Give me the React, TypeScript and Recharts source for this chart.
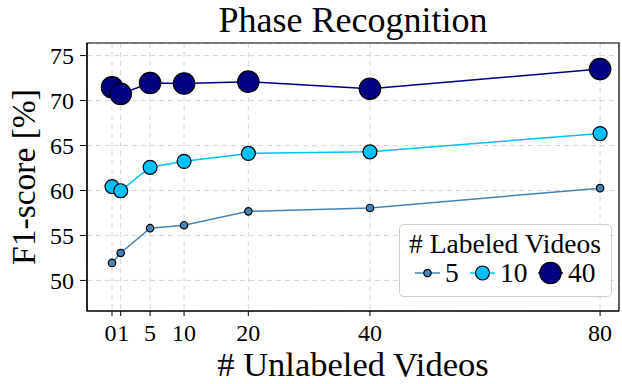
import React from "react";
import {
  LineChart,
  Line,
  XAxis,
  YAxis,
  CartesianGrid,
  Legend,
  ReferenceArea,
  Label,
} from "recharts";

const UNLABELED = [0, 1, 5, 10, 20, 40, 80];
const F1_L5 = [51.95, 53.05, 55.81, 56.14, 57.68, 58.06, 60.26];
const F1_L10 = [60.44, 59.97, 62.58, 63.24, 64.12, 64.3, 66.33];
const F1_L40 = [71.47, 70.74, 71.95, 71.9, 72.1, 71.32, 73.5];
const Y_TICKS = [50, 55, 60, 65, 70, 75];

const SERIES = [
  { key: "l5", label: "5", color: "#4682b4", r: 3.7 },
  { key: "l10", label: "10", color: "#00bfff", r: 7 },
  { key: "l40", label: "40", color: "#000080", r: 10.7 },
];

const FONT = "'Liberation Serif', 'Times New Roman', Times, serif";

// the original x axis is slightly compressed toward 80
const warp = (v: number) => 80 * Math.pow(v / 80, 0.92);
const X_TICKS = UNLABELED.map(warp);
const X_DOMAIN = [-4.1, 83.1];
const Y_DOMAIN = [46.6, 76.4];

const data = UNLABELED.map((u, i) => ({
  u,
  x: warp(u),
  l5: F1_L5[i],
  l10: F1_L10[i],
  l40: F1_L40[i],
}));

const unwarp = (v: number) =>
  UNLABELED.find((u) => Math.abs(warp(u) - v) < 1e-6) ?? 0;

// "0" and "1" sit close together, nudge them apart a little
function XTick(props: any) {
  const { x, y, payload } = props;
  const u = unwarp(payload.value);
  const dx = u === 0 ? -1.5 : u === 1 ? 2.5 : 0;
  return (
    <text
      x={x + dx}
      y={y}
      dy="0.71em"
      textAnchor="middle"
      fontFamily={FONT}
      fontSize={24}
      fill="#000"
    >
      {u}
    </text>
  );
}

function LegendBox() {
  const slots = [16, 71, 139];
  return (
    <svg width={213} height={73} style={{ display: "block" }}>
      <rect
        x={0.5}
        y={0.5}
        width={212}
        height={72}
        rx={4}
        fill="rgba(255,255,255,0.85)"
        stroke="#cccccc"
      />
      <text
        x={106}
        y={29}
        textAnchor="middle"
        fontFamily={FONT}
        fontSize={27.5}
        fill="#000"
      >
        # Labeled Videos
      </text>
      {SERIES.map((s, i) => {
        const x0 = slots[i];
        return (
          <g key={s.key}>
            <line
              x1={x0}
              x2={x0 + 25}
              y1={49}
              y2={49}
              stroke={s.color}
              strokeWidth={1.5}
            />
            <circle
              cx={x0 + 12.5}
              cy={49}
              r={s.r}
              fill={s.color}
              stroke="#000"
              strokeWidth={1.2}
            />
            <text
              x={x0 + 30}
              y={58}
              fontFamily={FONT}
              fontSize={27.5}
              fill="#000"
            >
              {s.label}
            </text>
          </g>
        );
      })}
    </svg>
  );
}

export default function App() {
  const tickStyle = { fill: "#000", fontSize: 24, fontFamily: FONT };
  return (
    <div
      style={{
        position: "absolute",
        left: 0,
        top: 0,
        width: 622,
        height: 384,
        background: "#fff",
      }}
    >
      <div
        style={{
          position: "absolute",
          left: 87,
          width: 532,
          top: 1.5,
          textAlign: "center",
          fontFamily: FONT,
          fontSize: 36,
          lineHeight: "36px",
          color: "#000",
        }}
      >
        Phase Recognition
      </div>
      <LineChart
        width={622}
        height={384}
        data={data}
        margin={{ top: 43, right: 3, left: 0, bottom: 0 }}
      >
        <CartesianGrid stroke="#d6d6d6" strokeDasharray="5 4" />
        <XAxis
          dataKey="x"
          type="number"
          domain={X_DOMAIN}
          allowDataOverflow
          ticks={X_TICKS}
          interval={0}
          height={73}
          tick={<XTick />}
          tickSize={5}
          tickMargin={8}
          axisLine={{ stroke: "#000", strokeWidth: 1.2 }}
          tickLine={{ stroke: "#000" }}
        >
          <Label
            value="# Unlabeled Videos"
            position="insideBottom"
            offset={8}
            style={{ fontFamily: FONT, fontSize: 34.5, fill: "#000" }}
          />
        </XAxis>
        <YAxis
          type="number"
          domain={Y_DOMAIN}
          allowDataOverflow
          ticks={Y_TICKS}
          interval={0}
          width={87}
          tick={tickStyle}
          tickSize={7}
          tickMargin={6}
          axisLine={{ stroke: "#000", strokeWidth: 1.2 }}
          tickLine={{ stroke: "#000" }}
        >
          <Label
            value="F1-score [%]"
            angle={-90}
            position="insideLeft"
            offset={23}
            style={{
              fontFamily: FONT,
              fontSize: 33.5,
              fill: "#000",
              textAnchor: "middle",
            }}
          />
        </YAxis>
        <ReferenceArea
          x1={X_DOMAIN[0]}
          x2={X_DOMAIN[1]}
          y1={Y_DOMAIN[0]}
          y2={Y_DOMAIN[1]}
          fill="none"
          stroke="#000"
          strokeWidth={1.2}
          fillOpacity={0}
        />
        {SERIES.map((s) => (
          <Line
            key={s.key}
            dataKey={s.key}
            stroke={s.color}
            strokeWidth={1.5}
            dot={{ r: s.r, fill: s.color, stroke: "#000", strokeWidth: 1.2 }}
            activeDot={false}
            isAnimationActive={false}
          />
        ))}
        <Legend
          layout="horizontal"
          verticalAlign="middle"
          align="center"
          content={() => <LegendBox />}
          wrapperStyle={{ position: "absolute", left: 399, top: 224, width: 213, height: 73 }}
        />
      </LineChart>
    </div>
  );
}
